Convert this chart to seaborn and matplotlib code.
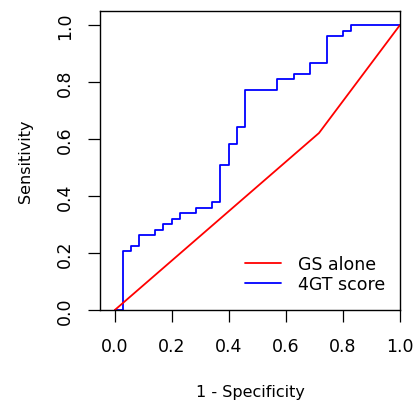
import numpy as np
import pandas as pd
import matplotlib
matplotlib.use("Agg")
import matplotlib.pyplot as plt
import seaborn as sns

# 4GT score ROC (step curve)
fpr_4gt = [0.0, 0.027, 0.056, 0.085, 0.141, 0.170, 0.199, 0.228, 0.285, 0.341,
           0.370, 0.399, 0.427, 0.456, 0.570, 0.628, 0.684, 0.743, 0.799, 0.828, 1.0]
tpr_4gt = [0.0, 0.206, 0.224, 0.263, 0.282, 0.302, 0.320, 0.339, 0.358, 0.378,
           0.509, 0.584, 0.642, 0.772, 0.811, 0.829, 0.868, 0.960, 0.979, 1.0, 1.0]

# GS alone ROC
fpr_gs = [0.0, 0.716, 1.0]
tpr_gs = [0.0, 0.621, 1.0]

ticks = [0.0, 0.2, 0.4, 0.6, 0.8, 1.0]

df_4gt = pd.DataFrame({"fpr": fpr_4gt, "tpr": tpr_4gt})
df_gs = pd.DataFrame({"fpr": fpr_gs, "tpr": tpr_gs})

sns.set_theme(style="ticks")
plt.rcParams["font.family"] = ["DejaVu Sans"]
plt.rcParams["text.color"] = "black"
plt.rcParams["axes.labelcolor"] = "black"
plt.rcParams["xtick.color"] = "black"
plt.rcParams["ytick.color"] = "black"

fig = plt.figure(figsize=(4.14, 4.02), dpi=100)
ax = fig.add_axes([100 / 414, 1 - 311 / 402, 300 / 414, 299 / 402])

sns.lineplot(data=df_4gt, x="fpr", y="tpr", ax=ax, color="#0000ff", lw=1.3,
             drawstyle="steps-post", sort=False, label="4GT score")
sns.lineplot(data=df_gs, x="fpr", y="tpr", ax=ax, color="#ff0000", lw=1.3,
             sort=False, label="GS alone")

ax.set_xlim(-0.052, 1.0)
ax.set_ylim(0.0, 1.049)
ax.set_xticks(ticks)
ax.set_yticks(ticks)
ax.set_xticklabels([f"{t:.1f}" for t in ticks], fontsize=12.5)
ax.set_yticklabels([f"{t:.1f}" for t in ticks], fontsize=12.5, rotation=90, va="center")
ax.tick_params(length=8.5, width=0.9, color="black", labelcolor="black")
ax.tick_params(axis="x", pad=11)
ax.tick_params(axis="y", pad=10)
for s in ax.spines.values():
    s.set_visible(True)
    s.set_color("black")
    s.set_linewidth(1.0)

ax.set_xlabel("1 - Specificity", fontsize=11.5, labelpad=21, color="black")
ax.set_ylabel("Sensitivity", fontsize=11.5, labelpad=17, color="black")

h, l = ax.get_legend_handles_labels()
ax.legend(h[::-1], l[::-1], loc="upper left", bbox_to_anchor=(0.483, 0.185),
          frameon=False, fontsize=12.5, handlelength=2.07, handletextpad=1.0,
          labelspacing=0.15, borderpad=0, borderaxespad=0)

fig.savefig("out.png", dpi=100)
